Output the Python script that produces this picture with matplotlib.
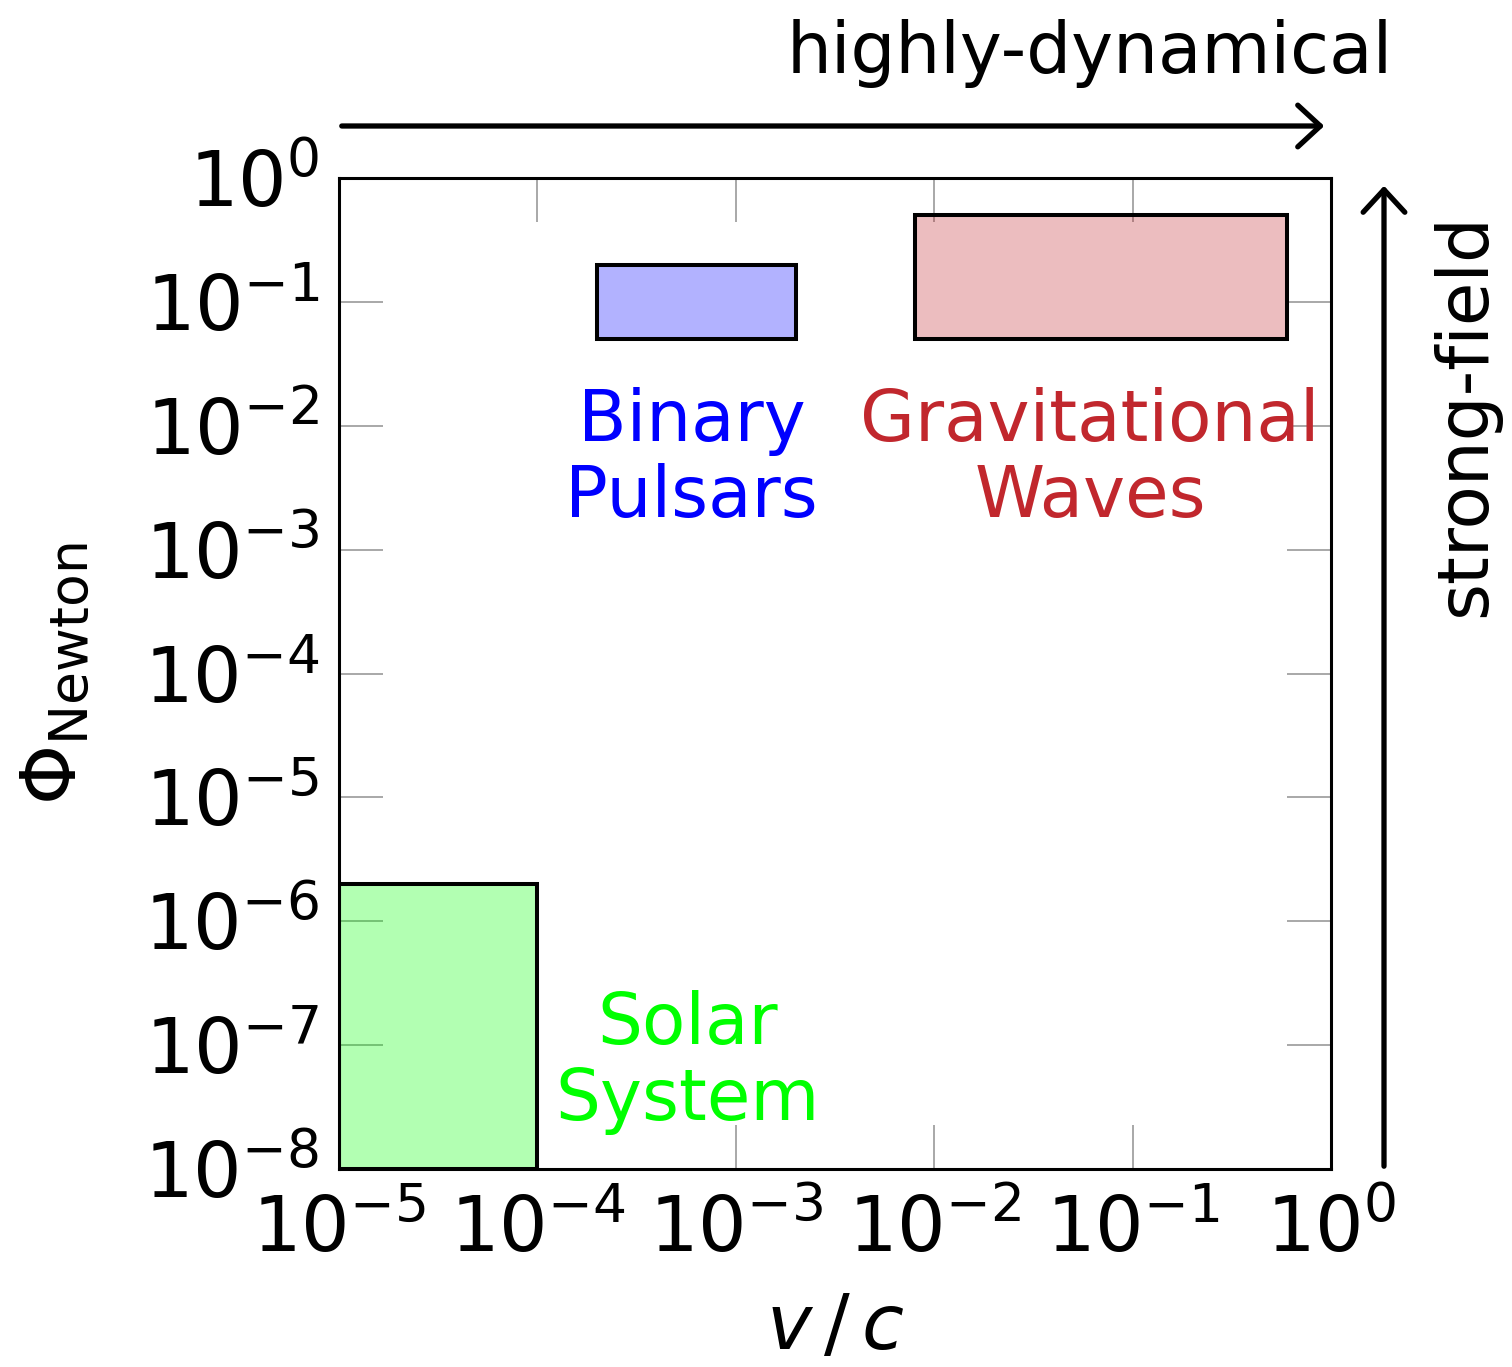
import numpy as np
import matplotlib
matplotlib.use("Agg")
import matplotlib.pyplot as plt
from matplotlib.patches import Rectangle, FancyArrowPatch

plt.rcParams['font.family'] = ['DejaVu Sans']
plt.rcParams['mathtext.fontset'] = 'dejavusans'

# regions in (v/c, Phi_Newton): x0, x1, y0, y1
names = ["Solar\nSystem", "Binary\nPulsars", "Gravitational\nWaves"]
x_lo = [1e-5, 2e-4, 8e-3]
x_hi = [1e-4, 2e-3, 0.6]
y_lo = [1e-8, 0.05, 0.05]
y_hi = [2e-6, 0.2, 0.5]
text_x = [5.7e-4, 6.0e-4, 0.061]
text_y = [7.3e-8, 5.3e-3, 5.3e-3]
colors = ["#00ff00", "#0000ff", "#c1272d"]

fig = plt.figure(figsize=(15.12, 13.67), dpi=100)
ax = fig.add_axes([339/1512, 1 - 1169/1367, (1331-339)/1512, (1169-178)/1367])

for i in range(len(names)):
    ax.add_patch(Rectangle((x_lo[i], y_lo[i]), x_hi[i] - x_lo[i], y_hi[i] - y_lo[i],
                           facecolor=colors[i], alpha=0.3, edgecolor='none', zorder=2))
    ax.add_patch(Rectangle((x_lo[i], y_lo[i]), x_hi[i] - x_lo[i], y_hi[i] - y_lo[i],
                           facecolor='none', edgecolor='black', lw=2.9, zorder=3))
    ax.text(text_x[i], text_y[i], names[i], color=colors[i], fontsize=51,
            ha='center', va='center', linespacing=1.13, zorder=4)

ax.set_xscale('log')
ax.set_yscale('log')
ax.set_xlim(1e-5, 1e0)
ax.set_ylim(1e-8, 1e0)
ax.set_xticks([10.0**k for k in range(-5, 1)])
ax.set_yticks([10.0**k for k in range(-8, 1)])
ax.minorticks_off()
ax.tick_params(which='major', direction='in', length=31.7, width=1.2, color='#999999',
               top=True, right=True, labelsize=55)
ax.tick_params(axis='x', pad=18)
ax.tick_params(axis='y', pad=14)
for s in ax.spines.values():
    s.set_linewidth(2.2)

ax.set_xlabel(r'$v\,/\,c$', fontsize=55, labelpad=16)
ax.set_ylabel(r'$\Phi_{\mathrm{Newton}}$', fontsize=55, labelpad=36)

# direction arrows
fig.patches.append(FancyArrowPatch(
    (339/1512, 1 - 126/1367), (1327/1512, 1 - 126/1367), transform=fig.transFigure,
    arrowstyle='->,head_length=0.65,head_width=0.6', lw=3.8, color='black',
    mutation_scale=25, capstyle='round', joinstyle='round'))
fig.patches.append(FancyArrowPatch(
    (1384/1512, 1 - 1169/1367), (1384/1512, 1 - 183/1367), transform=fig.transFigure,
    arrowstyle='->,head_length=0.65,head_width=0.6', lw=3.8, color='black',
    mutation_scale=25, capstyle='round', joinstyle='round'))
fig.text(1393/1512, 1 - 73/1367, 'highly-dynamical', fontsize=51, ha='right', va='baseline')
fig.text(1500/1512, 1 - 213/1367, 'strong-field', fontsize=51, ha='right', va='top', rotation=90)

fig.savefig('out.png', dpi=100)
